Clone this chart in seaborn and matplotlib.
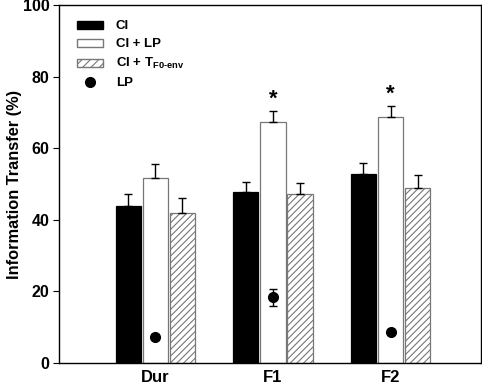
import pandas as pd
import matplotlib
matplotlib.use("Agg")
import matplotlib.pyplot as plt
import seaborn as sns
from matplotlib.patches import Patch
from matplotlib.lines import Line2D

# Data
features = ["Dur", "F1", "F2"]
conditions = ["CI", "CI + LP", "CI + TF0"]
ci = [44.0, 47.7, 52.9]
ci_err = [3.2, 3.0, 3.1]
ci_lp = [51.6, 67.2, 68.8]
ci_lp_err = [3.9, 3.1, 3.1]
ci_tf0 = [41.8, 47.1, 48.8]
ci_tf0_err = [4.4, 3.3, 3.8]
lp = [7.4, 18.4, 8.8]
lp_err = [0.6, 2.4, 0.6]
significant = [False, True, True]  # star above CI + LP

sns.set_theme(style="ticks")
plt.rcParams["font.family"] = ["Liberation Sans", "DejaVu Sans"]
plt.rcParams["font.weight"] = "bold"
for key in ["text.color", "axes.labelcolor", "xtick.color", "ytick.color"]:
    plt.rcParams[key] = "black"
plt.rcParams["hatch.color"] = "#555555"
plt.rcParams["hatch.linewidth"] = 0.8
plt.rcParams["mathtext.fontset"] = "custom"
plt.rcParams["mathtext.rm"] = "Liberation Sans:bold"
plt.rcParams["mathtext.bf"] = "Liberation Sans:bold"
plt.rcParams["mathtext.it"] = "Liberation Sans:bold"

df = pd.DataFrame({
    "feature": features * 3,
    "condition": [c for c in conditions for _ in features],
    "value": ci + ci_lp + ci_tf0,
    "err": ci_err + ci_lp_err + ci_tf0_err,
})

fig = plt.figure(figsize=(4.82, 3.85), dpi=100)
ax = fig.add_axes([0.1224, 0.057, 0.8756, 0.930])

sns.barplot(data=df, x="feature", y="value", hue="condition",
            order=features, hue_order=conditions,
            palette=["black", "white", "white"],
            width=0.69, gap=0.07, errorbar=None, legend=False, ax=ax)

bar_groups = list(ax.containers)

# style bars and add one-sided error bars
for i, cont in enumerate(bar_groups):
    sub = df[df.condition == conditions[i]]
    for bar, v, e in zip(cont, sub["value"], sub["err"]):
        bar.set_edgecolor("black" if i == 0 else "#777777")
        bar.set_linewidth(0.9)
        if i == 2:
            bar.set_hatch("/////")
        x = bar.get_x() + bar.get_width() / 2
        ax.errorbar(x, v, yerr=[[0], [e]], fmt="none", ecolor="black",
                    elinewidth=1.0, capsize=3.2, capthick=1.0, zorder=3)

# stars and LP dots at the centre of the CI + LP bars
for j, bar in enumerate(bar_groups[1]):
    x = bar.get_x() + bar.get_width() / 2
    if significant[j]:
        ax.annotate("*", (x, ci_lp[j] + ci_lp_err[j]), xytext=(0, 1),
                    textcoords="offset points", ha="center", va="bottom",
                    fontsize=16, fontweight="bold")
    ax.errorbar(x, lp[j], yerr=lp_err[j], fmt="o", color="black",
                markersize=7, capsize=3.2, elinewidth=1.0, zorder=4)

ax.set_xlim(-0.82, 2.77)
ax.set_ylim(0, 100)
ax.set_yticks([0, 20, 40, 60, 80, 100])
ax.set_xlabel("")
ax.set_ylabel("Information Transfer (%)", fontsize=11.8, fontweight="bold")
ax.yaxis.set_label_coords(-0.088, 0.5)
ax.tick_params(axis="x", length=0, labelsize=12, pad=5)
ax.tick_params(axis="y", length=4, width=0.8, labelsize=11.5, pad=3)
for s in ax.spines.values():
    s.set_linewidth(1.0)
    s.set_color("black")

handles = [
    Patch(facecolor="black", edgecolor="black"),
    Patch(facecolor="white", edgecolor="#777777"),
    Patch(facecolor="white", edgecolor="#777777", hatch="////"),
    Line2D([], [], marker="o", color="black", linestyle="none", markersize=7),
]
labels = ["CI", "CI + LP", r"CI + T$_{\mathrm{F0\text{-}env}}$", "LP"]
leg = ax.legend(handles, labels, loc="upper left", bbox_to_anchor=(0.014, 0.99),
                frameon=False, fontsize=9.5, handlelength=2.0, handleheight=0.55,
                labelspacing=0.45, handletextpad=0.95)
for t in leg.get_texts():
    t.set_fontweight("bold")

fig.savefig("out.png", dpi=100)
